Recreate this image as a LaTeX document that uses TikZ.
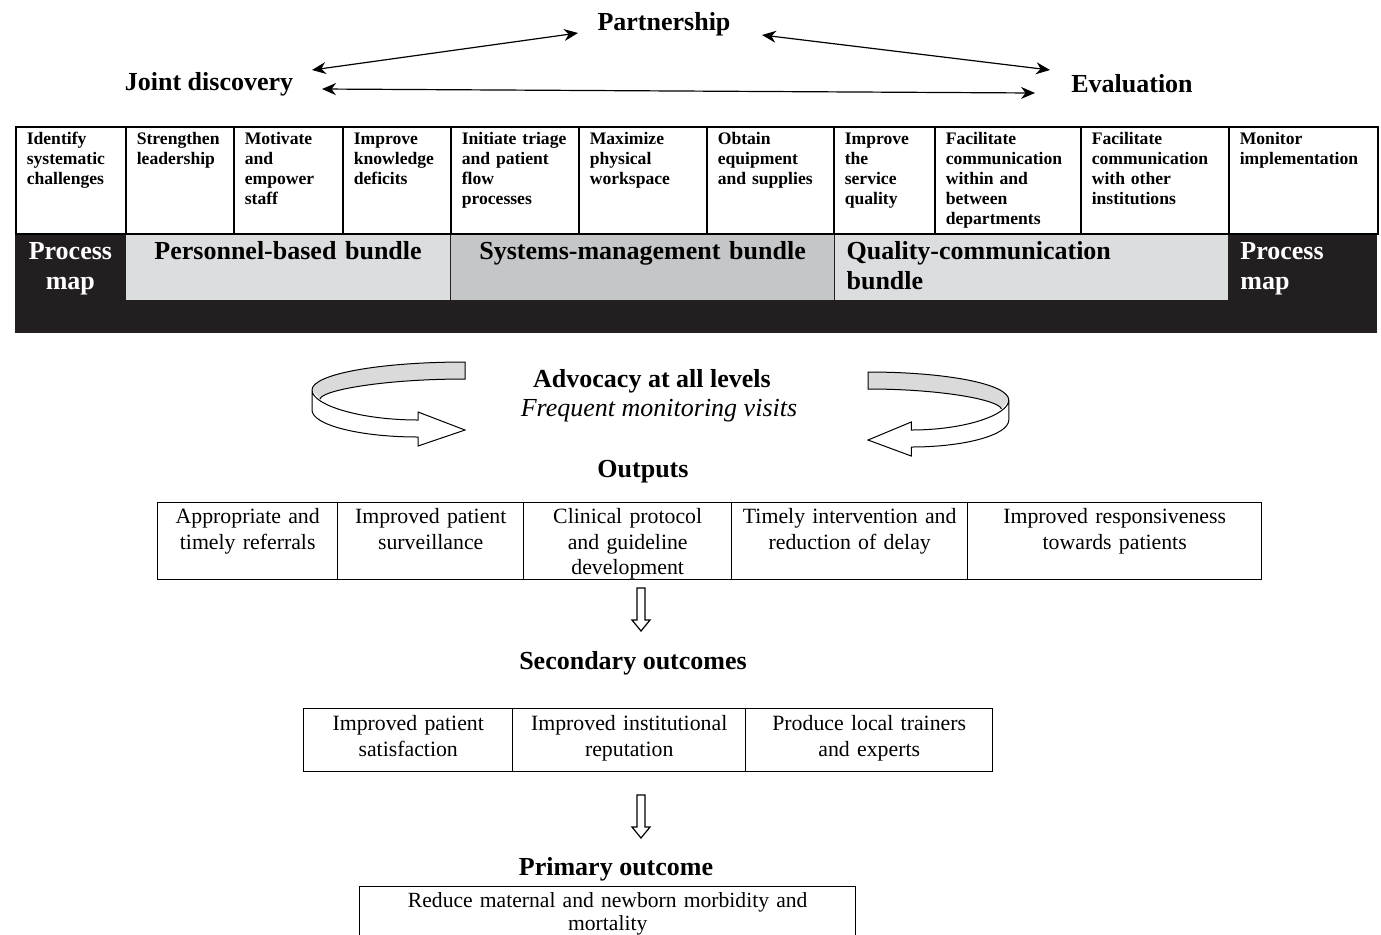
\documentclass[tikz,border=0pt]{standalone}
\usepackage{fontspec}
\setmainfont{Liberation Serif}
\definecolor{pmblack}{RGB}{35,31,32}
\definecolor{pmlight}{RGB}{220,221,223}
\definecolor{pmmid}{RGB}{197,198,200}
\definecolor{pmribbon}{RGB}{218,218,218}
\usetikzlibrary{arrows.meta,positioning}

\begin{document}
\begin{tikzpicture}[
  x=0.5pt, y=-0.5pt,
  headtxt/.style={font=\fontsize{13}{15}\selectfont\bfseries, inner sep=0pt},
  linkarr/.style={{Stealth[length=7pt,width=6pt]}-{Stealth[length=7pt,width=6pt]}, line width=0.6pt},
  actcell/.style={
    draw, line width=0.8pt, anchor=north west, align=left,
    inner xsep=5.5pt, inner ysep=0pt,
    text height=8.6pt, text depth=44.9pt,
    font=\fontsize{8.8}{10}\selectfont\bfseries
  },
  bundle/.style={
    anchor=north west, inner xsep=6pt, inner ysep=0pt,
    text height=13pt, text depth=20.5pt,
    font=\fontsize{13}{15}\selectfont\bfseries
  },
  outcell/.style={
    draw, line width=0.7pt, anchor=north west, align=center,
    inner xsep=2pt, inner ysep=0pt, text height=10.5pt,
    font=\fontsize{10.9}{12.75}\selectfont
  },
  ribbon/.style={draw, line width=0.5pt},
  hollow/.style={draw, fill=white, line width=0.6pt}
]
\useasboundingbox (0,0) rectangle (1381,934);

\node[headtxt] (partner) at (664,24) {Partnership};
\node[headtxt] (joint)   at (209,84.5) {Joint discovery};
\node[headtxt] (evalu)   at (1132,83.5) {Evaluation};

\draw[linkarr] ([shift={(103,-14.5)}]joint.center) -- ([shift={(-86,9)}]partner.center);
\draw[linkarr] ([shift={(98,11)}]partner.center) -- ([shift={(-82,-13.5)}]evalu.center);
\draw[linkarr] ([shift={(113,4.5)}]joint.center) -- ([shift={(-97,9.5)}]evalu.center);

\fill[pmblack] (15,233) rectangle (1377,333);
\node[bundle, text=white, align=center, inner xsep=4pt, text width=47pt] (pmleft) at (15,233) {Process\\map};
\node[bundle, draw=pmblack, line width=0.6pt, fill=pmlight, align=center, text width=150.5pt] (personnel) at (125,233) {Personnel-based bundle};
\node[bundle, draw=pmblack, line width=0.6pt, fill=pmmid, align=center, text width=180pt] (systems) at (450,233) {Systems-management bundle};
\node[bundle, draw=pmblack, line width=0.6pt, fill=pmlight, align=left, text width=185pt] (quality) at (834,233) {Quality-communication\\bundle};
\node[bundle, text=white, align=left, text width=62.5pt] (pmright) at (1228,233) {Process\\map};

\node[actcell, text width=44pt]   (c1)  at (15,126)   {Identify\\systematic\\challenges};
\node[actcell, text width=43pt]   (c2)  at (125,126)  {Strengthen\\leadership};
\node[actcell, text width=43.5pt] (c3)  at (233,126)  {Motivate\\and\\empower\\staff};
\node[actcell, text width=43pt]   (c4)  at (342,126)  {Improve\\knowledge\\deficits};
\node[actcell, text width=53pt]   (c5)  at (450,126)  {Initiate triage\\and patient\\flow\\processes};
\node[actcell, text width=53pt]   (c6)  at (578,126)  {Maximize\\physical\\workspace};
\node[actcell, text width=52.5pt] (c7)  at (706,126)  {Obtain\\equipment\\and supplies};
\node[actcell, text width=39.5pt] (c8)  at (833,126)  {Improve\\the\\service\\quality};
\node[actcell, text width=62pt]   (c9)  at (934,126)  {Facilitate\\communication\\within and\\between\\departments};
\node[actcell, text width=63pt]   (c10) at (1080,126) {Facilitate\\communication\\with other\\institutions};
\node[actcell, text width=63.5pt] (c11) at (1228,126) {Monitor\\implementation};

\begin{scope}[shift={(465,362)}]
  \fill[pmribbon] (-153,28) .. controls (-153,12) and (-85,0) .. (0,0) -- (0,17)
    .. controls (-80,17) and (-143,28) .. (-145,37) -- cycle;
  \draw[ribbon] (-153,28) .. controls (-153,12) and (-85,0) .. (0,0) -- (0,17)
    .. controls (-80,17) and (-143,28) .. (-145,37);
  \draw[ribbon, fill=white] (-153,28) -- (-153,48) .. controls (-153,63) and (-105,75) .. (-47,75)
    -- (-47,84) -- (0,68) -- (-47,50) -- (-47,58) .. controls (-105,58) and (-153,43) .. (-153,28) -- cycle;
\end{scope}
\begin{scope}[shift={(868,372)}, xscale=-0.92]
  \fill[pmribbon] (-153,28) .. controls (-153,12) and (-85,0) .. (0,0) -- (0,17)
    .. controls (-80,17) and (-143,28) .. (-145,37) -- cycle;
  \draw[ribbon] (-153,28) .. controls (-153,12) and (-85,0) .. (0,0) -- (0,17)
    .. controls (-80,17) and (-143,28) .. (-145,37);
  \draw[ribbon, fill=white] (-153,28) -- (-153,48) .. controls (-153,63) and (-105,75) .. (-47,75)
    -- (-47,84) -- (0,68) -- (-47,50) -- (-47,58) .. controls (-105,58) and (-153,43) .. (-153,28) -- cycle;
\end{scope}

\node[headtxt] (advocacy) at (652,381) {Advocacy at all levels};
\node[font=\fontsize{13}{15}\selectfont\itshape, inner sep=0pt] (visits) at (659,411) {Frequent monitoring visits};
\node[headtxt] (outputs) at (643,471.5) {Outputs};

\node[outcell, text width=86pt,  text depth=28pt] (o1) at (157,502) {Appropriate and\\timely referrals};
\node[outcell, text width=89pt,  text depth=28pt] (o2) at (337,502) {Improved patient\\surveillance};
\node[outcell, text width=100pt, text depth=28pt] (o3) at (523,502) {Clinical protocol\\and guideline\\development};
\node[outcell, text width=114pt, text depth=28pt] (o4) at (731,502) {Timely intervention and\\reduction of delay};
\node[outcell, text width=143pt, text depth=28pt] (o5) at (967,502) {Improved responsiveness\\towards patients};

\coordinate (dn1) at (641,588);
\draw[hollow] (dn1) ++(-4,0) -- ++(8,0) -- ++(0,32) -- ++(5,0) -- ++(-9,11) -- ++(-9,-11) -- ++(5,0) -- cycle;

\node[headtxt] (secondary) at (633,663.5) {Secondary outcomes};

\node[outcell, text width=100.5pt, text height=11pt, text depth=20.5pt] (s1) at (303,708) {Improved patient\\satisfaction};
\node[outcell, text width=112.5pt, text height=11pt, text depth=20.5pt] (s2) at (512,708) {Improved institutional\\reputation};
\node[outcell, text width=119.5pt, text height=11pt, text depth=20.5pt] (s3) at (745,708) {Produce local trainers\\and experts};

\coordinate (dn2) at (641,795);
\draw[hollow] (dn2) ++(-4,0) -- ++(8,0) -- ++(0,32) -- ++(5,0) -- ++(-9,11) -- ++(-9,-11) -- ++(5,0) -- cycle;

\node[headtxt] (primary) at (616,869.5) {Primary outcome};
\node[outcell, font=\fontsize{10.8}{11.3}\selectfont, text width=244pt, text height=10.5pt, text depth=16pt] (p1) at (359,886) {Reduce maternal and newborn morbidity and\\mortality};
\end{tikzpicture}
\end{document}
